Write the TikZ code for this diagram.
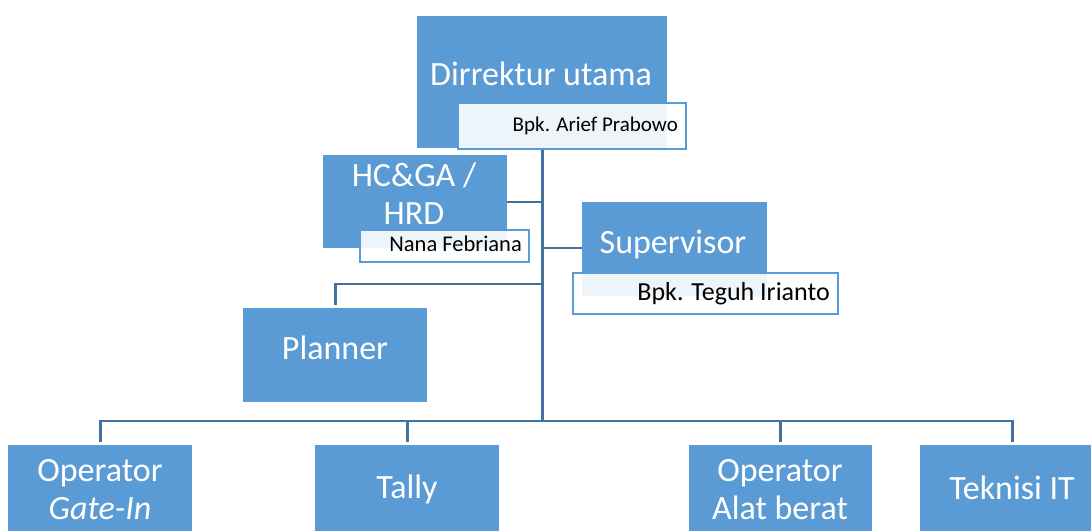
\documentclass[tikz,border=0pt]{standalone}
\usepackage{fontspec}
\setmainfont{Carlito}
\definecolor{boxblue}{HTML}{5B9BD5}
\definecolor{linkblue}{HTML}{41719C}
\tikzset{
  unitbox/.style={fill=boxblue, draw=none, inner sep=0pt, anchor=north west},
  namebox/.style={fill=white, fill opacity=0.9, draw=boxblue, line width=2pt, inner sep=0pt, anchor=north west},
  maintext/.style={text=white, inner sep=0pt, align=center, anchor=base, font=\fontsize{34}{38}\selectfont},
  nametext/.style={text=black, inner sep=0pt, anchor=base east},
  link/.style={draw=linkblue, line width=2.8pt}
}
\begin{document}
\begin{tikzpicture}[x=1pt, y=-1pt]
\useasboundingbox (0,0) rectangle (1091,530);
\clip (0,0) rectangle (1091,530);
% junction coordinates
\coordinate (hcJ) at (542,202);
\coordinate (supJ) at (542,248);
\coordinate (plJ) at (542,284);
\coordinate (bus) at (542,421);
% boxes
\node[unitbox, minimum width=250pt, minimum height=132pt] (dir) at (417,16) {};
\node[unitbox, minimum width=184pt, minimum height=93pt] (hc) at (323,155) {};
\node[unitbox, minimum width=185pt, minimum height=94pt] (sup) at (582,202) {};
\node[unitbox, minimum width=184pt, minimum height=94pt] (plan) at (243,308) {};
\node[unitbox, minimum width=184pt, minimum height=90pt] (gate) at (8,445) {};
\node[unitbox, minimum width=184pt, minimum height=90pt] (tally) at (315,445) {};
\node[unitbox, minimum width=183pt, minimum height=90pt] (alat) at (689,445) {};
\node[unitbox, minimum width=184pt, minimum height=90pt] (tek) at (920,445) {};
% connectors
\draw[link] (dir.south) -- (dir.south |- bus);
\draw[link] (hc.east |- hcJ) -- (hcJ);
\draw[link] (supJ) -- (sup.west |- supJ);
\draw[link] (plJ) -| ([yshift=3pt]plan.north);
\draw[link] ([yshift=3pt]gate.north) -- (gate.north |- bus) -- (tek.north |- bus) -- ([yshift=3pt]tek.north);
\draw[link] (tally.north |- bus) -- ([yshift=3pt]tally.north);
\draw[link] (alat.north |- bus) -- ([yshift=3pt]alat.north);
% name boxes
\node[namebox, minimum width=228pt, minimum height=46pt] (dirS) at (457,102) {};
\node[namebox, minimum width=169pt, minimum height=32pt] (hcS) at (359,229) {};
\node[namebox, minimum width=265pt, minimum height=41pt] (supS) at (572,272) {};
% titles
\node[maintext] (dirT) at (541,85) {Dirrektur utama};
\node[maintext] (hcT) at (414,224) {HC\&GA /\\HRD};
\node[maintext] (supT) at (673,253) {Supervisor};
\node[maintext] (planT) at (335,359) {Planner};
\node[maintext] (gateT) at (100,519) {Operator\\\textit{Gate-In}};
\node[maintext] (tallyT) at (407,498) {Tally};
\node[maintext] (alatT) at (780,519) {Operator\\Alat berat};
\node[maintext] (tekT) at (1012,499) {Teknisi IT};
% names
\node[nametext, font=\fontsize{21}{25}\selectfont] (dirN) at (678,131) {Bpk. Arief Prabowo};
\node[nametext, font=\fontsize{22.5}{27}\selectfont] (hcN) at (522,251) {Nana Febriana};
\node[nametext, font=\fontsize{26}{31}\selectfont] (supN) at (830,300) {Bpk. Teguh Irianto};
\end{tikzpicture}
\end{document}
